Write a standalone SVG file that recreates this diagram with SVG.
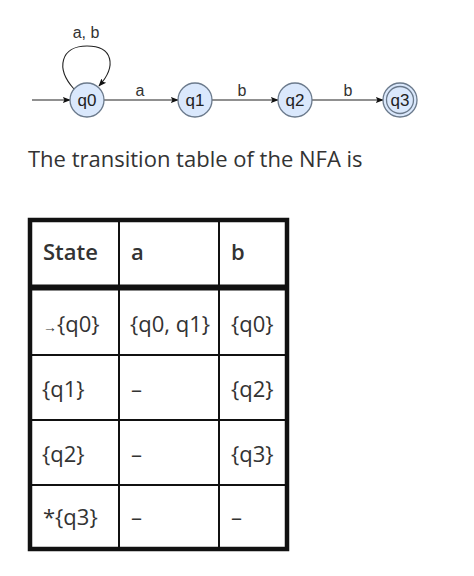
<svg xmlns="http://www.w3.org/2000/svg" width="474" height="576" viewBox="0 0 474 576">
<style>
.st{fill:#dae8fc;stroke:#6b7a8c;stroke-width:1.3}
.lb{font-family:"Liberation Sans",Arial,sans-serif;font-size:17px;fill:#222;text-anchor:middle}
.el{font-family:"Liberation Sans",Arial,sans-serif;font-size:16px;fill:#333;text-anchor:middle}
.ed{fill:none;stroke:#222;stroke-width:1.1}
.tx{font-family:"Open Sans","Noto Sans",sans-serif;font-size:22px;fill:#333}
.hd{font-family:"Open Sans","Noto Sans",sans-serif;font-size:22px;fill:#333;font-weight:600}
.gr{stroke:#111;stroke-width:2;fill:none}
.bd{stroke:#111;stroke-width:4.5;fill:none}
</style>
<defs>
<marker id="ah" viewBox="0 0 10 10" refX="9" refY="5" markerWidth="8" markerHeight="8" orient="auto" markerUnits="userSpaceOnUse">
<path d="M0,1 L10,5 L0,9 L2,5 Z" fill="#111"/>
</marker>
</defs>
<rect width="474" height="576" fill="#fff"/>
<g id="connectors">
<line class="ed" x1="32" y1="100" x2="70" y2="100" marker-end="url(#ah)"/>
<path class="ed" d="M74,89 C55,68 61,46 87,46 C113,46 117,66 99,86" marker-end="url(#ah)"/>
<text class="el" x="86" y="38">a, b</text>
<line class="ed" x1="104" y1="100" x2="178" y2="100" marker-end="url(#ah)"/>
<text class="el" x="140" y="96">a</text>
<line class="ed" x1="212" y1="100" x2="278" y2="100" marker-end="url(#ah)"/>
<text class="el" x="242" y="96">b</text>
<line class="ed" x1="312" y1="100" x2="383" y2="100" marker-end="url(#ah)"/>
<text class="el" x="348" y="96">b</text>
</g>
<g id="q0"><circle class="st" cx="87" cy="100" r="17"/><text class="lb" x="87" y="106">q0</text></g>
<g id="q1"><circle class="st" cx="195" cy="100" r="17"/><text class="lb" x="195" y="106">q1</text></g>
<g id="q2"><circle class="st" cx="295" cy="100" r="17"/><text class="lb" x="295" y="106">q2</text></g>
<g id="q3"><circle class="st" cx="400" cy="100" r="17"/><circle class="st" cx="400" cy="100" r="13.5"/><text class="lb" x="400" y="106">q3</text></g>
<text class="tx" x="28" y="167" font-size="22">The transition table of the NFA is</text>
<g id="table">
<line class="gr" x1="119" y1="220" x2="119" y2="549"/>
<line class="gr" x1="219" y1="220" x2="219" y2="549"/>
<line class="gr" x1="30" y1="355" x2="287" y2="355"/>
<line class="gr" x1="30" y1="420" x2="287" y2="420"/>
<line class="gr" x1="30" y1="485" x2="287" y2="485"/>
<line stroke="#111" stroke-width="6" x1="30" y1="287.5" x2="287" y2="287.5"/>
<rect class="bd" x="30" y="220" width="257" height="329"/>
<text class="hd" x="43" y="260">State</text>
<text class="hd" x="131" y="260">a</text>
<text class="hd" x="231" y="260">b</text>
<text class="tx" x="43" y="332"><tspan font-size="14">→</tspan>{q0}</text>
<text class="tx" x="130" y="332">{q0, q1}</text>
<text class="tx" x="231" y="332">{q0}</text>
<text class="tx" x="42" y="397">{q1}</text>
<text class="tx" x="131" y="397">–</text>
<text class="tx" x="231" y="397">{q2}</text>
<text class="tx" x="42" y="462">{q2}</text>
<text class="tx" x="131" y="462">–</text>
<text class="tx" x="231" y="462">{q3}</text>
<text class="tx" x="43" y="525">*{q3}</text>
<text class="tx" x="131" y="525">–</text>
<text class="tx" x="231" y="525">–</text>
</g>
</svg>
